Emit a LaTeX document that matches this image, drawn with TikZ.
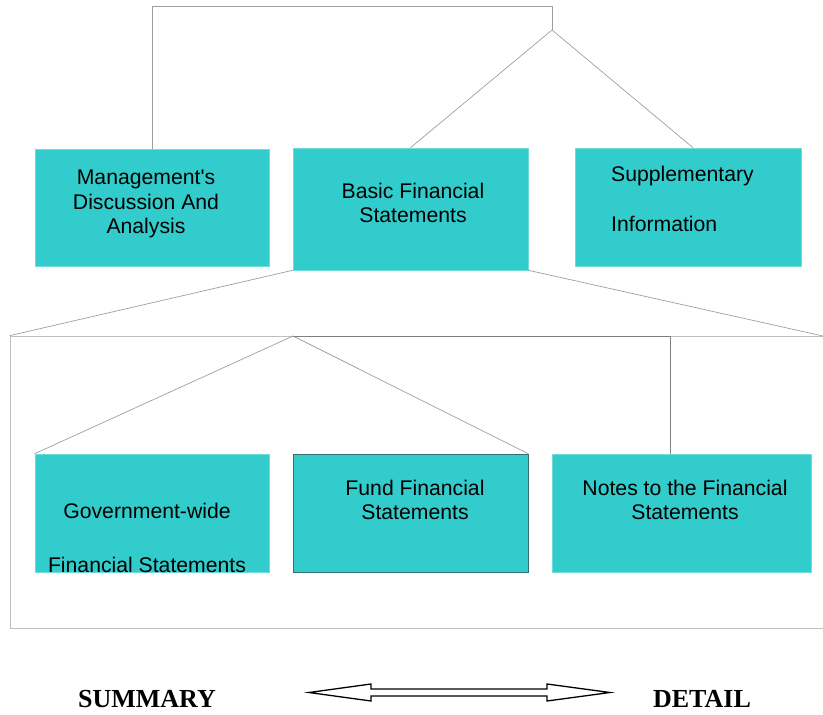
\documentclass[tikz,border=0pt]{standalone}
\usepackage{fontspec}
\setmainfont{Liberation Sans}
\newfontfamily\tagfont{Liberation Serif}
\definecolor{panelfill}{RGB}{51,204,204}
\definecolor{paneledge}{RGB}{110,220,220}
\begin{document}
\begin{tikzpicture}[x=1pt, y=-1pt,
  every node/.style={font=\fontsize{21.2}{24.5}\selectfont},
  panel/.style={draw=paneledge, fill=panelfill, line width=0.6pt, inner sep=0pt},
  txt/.style={align=center, inner sep=0pt},
  wire/.style={draw=black!38, line width=0.7pt},
  tag/.style={font=\tagfont\bfseries\fontsize{26}{30}\selectfont, inner sep=0pt}]
\useasboundingbox (0,0) rectangle (823,715);
% upper row
\node[panel, minimum width=234, minimum height=117] (mda) at (152,207.5) {};
\node[panel, minimum width=235, minimum height=122] (basic) at (410.5,209) {};
\node[panel, minimum width=226, minimum height=118] (supp) at (688,207) {};
\node[txt] (mdatxt) at (146,204) {Management\textquotesingle s\\Discussion And\\Analysis};
\node[txt] (basictxt) at (413,203) {Basic Financial\\Statements};
\node[txt, align=left, anchor=west] (supptxt) at (611,199) {Supplementary\\[26pt]Information};
% lower group
\node[draw=black!25, line width=0.7pt, minimum width=814, minimum height=292, inner sep=0pt] (group) at (417,482) {};
\node[panel, minimum width=234, minimum height=118] (gov) at (152,513) {};
\node[panel, draw=teal!60!black!80, minimum width=235, minimum height=118] (fund) at (410.5,513) {};
\node[panel, minimum width=259, minimum height=118] (notes) at (681.5,513) {};
\node[txt] (govtxt) at (147,538) {Government-wide\\[29pt]Financial Statements};
\node[txt] (fundtxt) at (415,500) {Fund Financial\\Statements};
\node[txt] (notestxt) at (685,500) {Notes to the Financial\\Statements};
% connectors
\coordinate (top) at (552,6);
\coordinate (hub) at (552,30);
\coordinate (split) at (293,336);
\draw[wire] (mda.north) |- (top) -- (hub);
\draw[wire] (basic.north) -- (hub) -- ([xshift=5]supp.north);
\draw[wire] (basic.south west) -- (group.north west);
\draw[wire] (basic.south east) -- (823,336);
\draw[wire] (gov.north west) -- (split) -- (fund.north east);
\draw[wire, draw=black!50] (split) -| ([xshift=-11.5]notes.north);
% summary / detail scale
\node[tag] (summary) at (147,699) {SUMMARY};
\node[tag] (detail) at (702,699) {DETAIL};
\draw[line width=1.3pt, line join=miter] (309,692.5) -- (371,684) -- (371,689) -- (547,689) -- (547,684) -- (610,692.5)
  -- (547,701) -- (547,696) -- (371,696) -- (371,701) -- cycle;
\end{tikzpicture}
\end{document}
